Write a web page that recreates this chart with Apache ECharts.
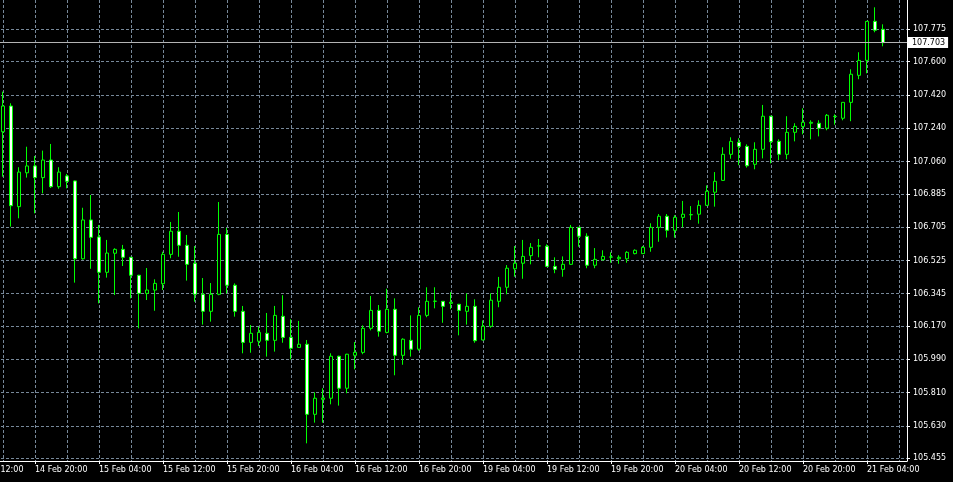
<!DOCTYPE html>
<html>
<head>
<meta charset="utf-8">
<script src="https://cdn.jsdelivr.net/npm/echarts@6/dist/echarts.min.js"></script>
<style>
html,body{margin:0;padding:0;background:#000;}
#chart{width:953px;height:482px;}
</style>
</head>
<body>
<div id="chart"></div>
<script>
// Hourly sessions shown on the time axis (weekend skipped); last hours are empty chart shift
const sessions = [['14 Feb', 12, 23], ['15 Feb', 0, 23], ['16 Feb', 0, 23], ['19 Feb', 0, 23], ['20 Feb', 0, 23], ['21 Feb', 0, 9]];
const leadingEmpty = 4;   // 14 Feb 12:00 .. 15:00 have no bars in view
const trailingEmpty = 3;  // 21 Feb 07:00 .. 09:00 (chart shift)

// H1 candles from 14 Feb 16:00 to 21 Feb 06:00
const open = [107.221,107.360,106.816,106.999,107.036,106.973,107.068,106.924,106.982,106.955,
106.534,106.744,106.652,106.461,106.564,106.585,106.542,106.445,106.347,106.365,
106.399,106.558,106.683,106.607,106.510,106.342,106.250,106.342,106.666,106.391,
106.250,106.082,106.088,106.131,106.093,106.223,106.109,106.055,106.072,105.693,
105.774,105.780,106.007,105.834,106.012,106.028,106.158,106.255,106.136,106.261,
106.012,106.093,106.045,106.228,106.304,106.304,106.293,106.288,106.250,106.277,
106.095,106.169,106.304,106.380,106.480,106.510,106.551,106.603,106.602,106.493,
106.477,106.504,106.704,106.656,106.499,106.529,106.543,106.534,106.534,106.562,
106.562,106.596,106.704,106.764,106.688,106.758,106.772,106.775,106.823,106.894,
106.958,107.099,107.164,107.142,107.045,107.126,107.305,107.169,107.099,107.218,
107.250,107.267,107.267,107.240,107.303,107.294,107.380,107.526,107.607,107.818,
107.775];
const high = [107.438,107.375,107.029,107.140,107.090,107.119,107.155,107.029,106.993,106.957,
106.810,106.879,106.717,106.636,106.591,106.609,106.544,106.447,106.484,106.423,
106.572,106.733,106.787,106.663,106.603,106.430,106.403,106.841,106.701,106.401,
106.279,106.176,106.167,106.241,106.279,106.337,106.207,106.198,106.095,105.812,
105.834,106.023,106.010,106.020,106.084,106.174,106.333,106.284,106.372,106.320,
106.104,106.228,106.272,106.380,106.380,106.306,106.353,106.290,106.347,106.315,
106.201,106.347,106.436,106.500,106.603,106.636,106.619,106.641,106.612,106.542,
106.547,106.717,106.706,106.672,106.592,106.580,106.569,106.553,106.575,106.585,
106.603,106.726,106.776,106.776,106.770,106.847,106.819,106.850,106.931,107.003,
107.137,107.191,107.186,107.153,107.164,107.366,107.307,107.180,107.305,107.267,
107.348,107.283,107.283,107.317,107.315,107.380,107.559,107.651,107.820,107.894,
107.802];
const low = [106.978,106.708,106.753,106.973,106.780,106.888,106.917,106.913,106.915,106.405,
106.530,106.480,106.293,106.432,106.338,106.495,106.320,106.158,106.311,106.253,
106.365,106.537,106.545,106.416,106.302,106.178,106.194,106.337,106.347,106.221,
106.023,106.026,106.062,106.005,106.032,106.080,105.990,106.053,105.536,105.648,
105.648,105.747,105.740,105.807,105.936,106.018,106.147,106.113,106.131,105.904,
105.961,106.005,106.037,106.218,106.266,106.188,106.261,106.120,106.178,106.080,
106.093,106.161,106.272,106.342,106.437,106.426,106.504,106.542,106.491,106.456,
106.437,106.502,106.599,106.483,106.483,106.524,106.513,106.507,106.513,106.558,
106.560,106.572,106.626,106.649,106.648,106.704,106.744,106.724,106.821,106.816,
106.956,107.075,107.040,107.027,107.018,107.077,107.050,107.067,107.072,107.169,
107.207,107.180,107.196,107.229,107.259,107.283,107.278,107.505,107.537,107.759,
107.683];
const close = [107.360,106.821,107.003,107.036,106.973,107.068,106.924,107.003,106.953,106.534,
106.744,106.650,106.461,106.565,106.585,106.542,106.445,106.347,106.365,106.401,
106.558,106.683,106.607,106.504,106.342,106.250,106.342,106.666,106.391,106.250,
106.082,106.131,106.136,106.093,106.228,106.109,106.050,106.072,105.693,105.780,
105.781,106.007,105.834,106.018,106.028,106.158,106.255,106.142,106.261,106.012,
106.099,106.045,106.228,106.304,106.305,106.277,106.299,106.255,106.277,106.091,
106.169,106.310,106.380,106.483,106.510,106.547,106.596,106.604,106.493,106.477,
106.504,106.704,106.656,106.499,106.531,106.547,106.544,106.542,106.569,106.580,
106.596,106.704,106.764,106.688,106.758,106.775,106.773,106.823,106.899,106.953,
107.099,107.169,107.142,107.037,107.126,107.305,107.167,107.099,107.218,107.250,
107.272,107.272,107.240,107.310,107.304,107.380,107.532,107.607,107.818,107.770,
107.703];

// Price scale tick labels
const priceTicks = [105.455,105.630,105.810,105.990,106.170,106.345,106.525,106.705,106.885,107.060,107.240,107.420,107.600,107.775];
const lastPrice = 107.703;
const priceMin = 105.4405, priceMax = 107.9335;

const categories = [];
sessions.forEach(([day, h0, h1]) => {
  for (let h = h0; h <= h1; h++) categories.push(day + ' ' + String(h).padStart(2, '0') + ':00');
});

const candles = [];
for (let i = 0; i < leadingEmpty; i++) candles.push(['-', '-', '-', '-']);
for (let i = 0; i < open.length; i++) candles.push([open[i], close[i], low[i], high[i]]);
for (let i = 0; i < trailingEmpty; i++) candles.push(['-', '-', '-', '-']);

const FONT = 'DejaVu Sans';
const FS = 8;
const gridColor = '#778899';

const chart = echarts.init(document.getElementById('chart'), null, {renderer: 'canvas'});
chart.setOption({
  backgroundColor: '#000000',
  animation: false,
  grid: {left: -29, right: 46, top: 0, bottom: 21, containLabel: false, outerBoundsMode: 'none'},
  xAxis: {
    type: 'category',
    data: categories,
    boundaryGap: false,
    axisLine: {show: true, onZero: false, lineStyle: {color: '#ffffff', width: 1}},
    axisTick: {show: true, interval: 7, length: 3, lineStyle: {color: '#ffffff'}},
    axisLabel: {
      interval: 7, align: 'left', color: '#ffffff', fontFamily: FONT, fontSize: FS,
      margin: 5, hideOverlap: false
    },
    splitLine: {show: true, interval: 3, lineStyle: {color: gridColor, type: [3, 2], width: 1}}
  },
  yAxis: {
    type: 'value',
    position: 'right',
    min: priceMin,
    max: priceMax,
    scale: true,
    axisLine: {show: true, onZero: false, lineStyle: {color: '#ffffff', width: 1}},
    axisTick: {show: true, length: 3, customValues: priceTicks, lineStyle: {color: '#ffffff'}},
    axisLabel: {
      customValues: priceTicks, color: '#ffffff', fontFamily: FONT, fontSize: FS, margin: 6,
      formatter: v => Number(v).toFixed(3), hideOverlap: false
    },
    splitLine: {show: true, lineStyle: {color: gridColor, type: [3, 2], width: 1}}
  },
  series: [{
    type: 'candlestick',
    data: candles,
    barWidth: 4,
    itemStyle: {
      color: '#000000', color0: '#ffffff',
      borderColor: '#00ff00', borderColor0: '#00ff00', borderWidth: 1
    },
    markLine: {
      silent: true,
      symbol: ['none', 'none'],
      animation: false,
      precision: 3,
      lineStyle: {color: '#b4b4b4', type: 'solid', width: 1},
      label: {
        show: true, position: 'end', distance: 1,
        formatter: () => lastPrice.toFixed(3),
        backgroundColor: '#ffffff', color: '#000000', fontFamily: FONT, fontSize: FS,
        padding: [2, 3, 1, 4]
      },
      emphasis: {disabled: true},
      data: [{yAxis: lastPrice}]
    }
  }]
});
</script>
</body>
</html>
